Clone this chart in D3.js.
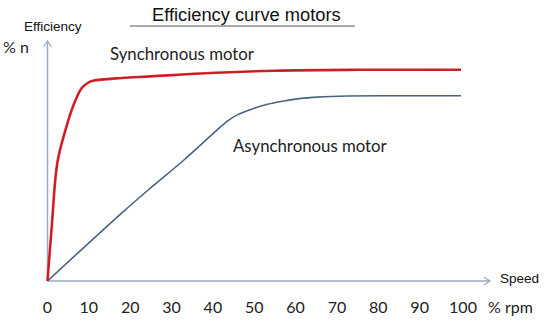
<!DOCTYPE html>
<html>
<head>
<meta charset="utf-8">
<script src="https://cdn.jsdelivr.net/npm/d3@7"></script>
<style>
  html, body { margin: 0; padding: 0; background: #fff; }
  svg { display: block; }
</style>
</head>
<body>
<svg id="chart" width="551" height="326"></svg>
<script>
// Speed axis tick labels (% rpm)
const speedTicks = [0, 10, 20, 30, 40, 50, 60, 70, 80, 90, 100];

// Synchronous motor: speed (%) and efficiency (%)
const syncSpeed = [0, 1, 2.4, 4.4, 6.3, 8.2, 9.7, 11, 18, 25, 37, 55, 75, 100];
const syncEff   = [0, 24, 54, 69, 80, 87.5, 90, 91, 92.3, 93, 94.3, 95.6, 96, 96];

// Asynchronous motor: speed (%) and efficiency (%)
const asyncSpeed = [0, 18, 25, 33, 40.3, 43.5, 45.9, 49.2, 53.2, 57.2, 61.3, 65.3, 72.6, 85, 100];
const asyncEff   = [0, 31, 42.4, 55, 67.4, 72.7, 75.5, 78, 80.3, 81.8, 83, 83.6, 84.1, 84.2, 84.2];

const svg = d3.select("#chart");

const x = d3.scaleLinear().domain([0, 100]).range([47.5, 461]);
const y = d3.scaleLinear().domain([0, 100]).range([281, 61]);

const axisColor = "#97abc2";

// Title with underline
svg.append("text")
  .attr("x", 152).attr("y", 21)
  .attr("font-family", "Liberation Sans, Arial, sans-serif")
  .attr("font-size", 18.3)
  .attr("fill", "#111")
  .text("Efficiency curve motors");
svg.append("line")
  .attr("x1", 130).attr("x2", 355)
  .attr("y1", 26).attr("y2", 26)
  .attr("stroke", "#555").attr("stroke-width", 1);

// Vertical axis with open arrow head
svg.append("line")
  .attr("x1", x(0)).attr("x2", x(0))
  .attr("y1", y(0)).attr("y2", 41)
  .attr("stroke", axisColor).attr("stroke-width", 1.5);
svg.append("path")
  .attr("d", `M${x(0) - 4},47 L${x(0)},41 L${x(0) + 4},47`)
  .attr("fill", "none").attr("stroke", axisColor).attr("stroke-width", 1.2);

// Horizontal axis with open arrow head
svg.append("line")
  .attr("x1", x(0)).attr("x2", 490)
  .attr("y1", y(0)).attr("y2", y(0))
  .attr("stroke", axisColor).attr("stroke-width", 1.5);
svg.append("path")
  .attr("d", `M484,${y(0) - 4} L490,${y(0)} L484,${y(0) + 4}`)
  .attr("fill", "none").attr("stroke", axisColor).attr("stroke-width", 1.2);

// Speed tick labels
svg.append("g")
  .selectAll("text")
  .data(speedTicks)
  .join("text")
  .attr("x", d => x(d) + (d === 100 ? 2 : 0))
  .attr("y", 313)
  .attr("text-anchor", "middle")
  .attr("font-family", "Lato, sans-serif")
  .attr("font-size", 16)
  .attr("fill", "#222")
  .text(d => d);

svg.append("text")
  .attr("x", 488).attr("y", 313)
  .attr("font-family", "Lato, sans-serif")
  .attr("font-size", 16)
  .attr("fill", "#222")
  .text("% rpm");

svg.append("text")
  .attr("x", 500).attr("y", 283)
  .attr("font-family", "Liberation Sans, Arial, sans-serif")
  .attr("font-size", 13.5)
  .attr("fill", "#111")
  .text("Speed");

svg.append("text")
  .attr("x", 24).attr("y", 31)
  .attr("font-family", "Liberation Sans, Arial, sans-serif")
  .attr("font-size", 13.5)
  .attr("fill", "#111")
  .text("Efficiency");

svg.append("text")
  .attr("x", 3).attr("y", 53)
  .attr("font-family", "Lato, sans-serif")
  .attr("font-size", 16)
  .attr("fill", "#222")
  .text("% n");

// Curves
const line = d3.line()
  .x(d => x(d[0]))
  .y(d => y(d[1]))
  .curve(d3.curveCatmullRom.alpha(0.5));

const asyncData = d3.zip(asyncSpeed, asyncEff);
const syncData = d3.zip(syncSpeed, syncEff);

svg.append("path")
  .datum(asyncData)
  .attr("d", line)
  .attr("fill", "none")
  .attr("stroke", "#4b6380")
  .attr("stroke-width", 1.6);

svg.append("path")
  .datum(syncData)
  .attr("d", line)
  .attr("fill", "none")
  .attr("stroke", "#e3232b")
  .attr("stroke-width", 2.6);
svg.append("path")
  .datum(syncData)
  .attr("d", line)
  .attr("fill", "none")
  .attr("stroke", "#b01c23")
  .attr("stroke-width", 0.9);

// Curve labels
svg.append("text")
  .attr("x", 110).attr("y", 60)
  .attr("font-family", "Lato, sans-serif")
  .attr("font-size", 16.8)
  .attr("fill", "#222")
  .text("Synchronous motor");

svg.append("text")
  .attr("x", 233).attr("y", 152)
  .attr("font-family", "Lato, sans-serif")
  .attr("font-size", 16.8)
  .attr("fill", "#222")
  .text("Asynchronous motor");
</script>
</body>
</html>
